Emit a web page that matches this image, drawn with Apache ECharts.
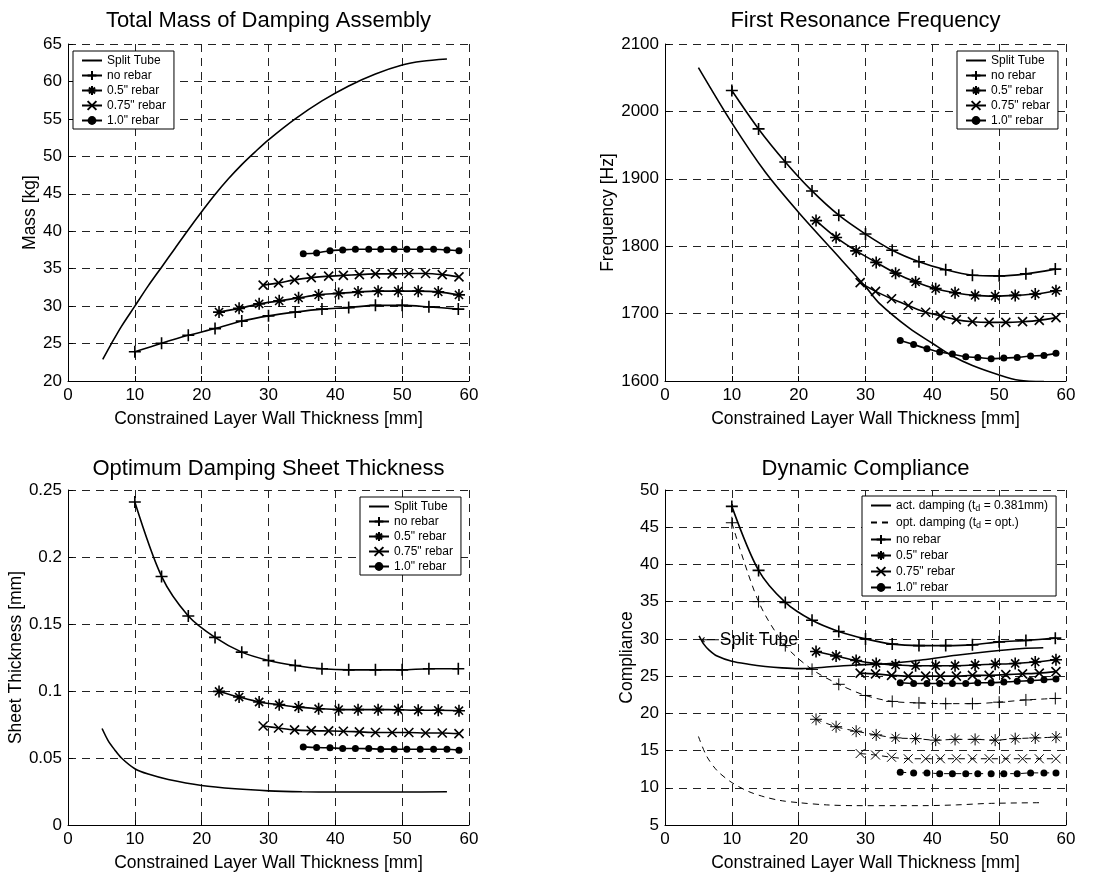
<!DOCTYPE html>
<html>
<head>
<meta charset="utf-8">
<script src="https://cdn.jsdelivr.net/npm/echarts@6/dist/echarts.min.js"></script>
<style>
  html, body { margin: 0; padding: 0; background: #fff; }
  #main { width: 1112px; height: 873px; }
</style>
</head>
<body>
<div id="main"></div>
<script>
// x positions of the markers (constrained layer wall thickness, mm)
const xNoRebar = [10, 14, 18, 22, 26, 30, 34, 38, 42, 46, 50, 54, 58.4];
const x05 = [22.6, 25.6, 28.6, 31.6, 34.5, 37.5, 40.5, 43.4, 46.4, 49.4, 52.4, 55.4, 58.5];
const x075 = [29.2, 31.5, 33.9, 36.4, 39.0, 41.2, 43.6, 46.0, 48.5, 51.0, 53.5, 56.0, 58.5];
const x10 = [35.2, 37.2, 39.2, 41.1, 43.0, 45.0, 46.8, 48.8, 50.7, 52.7, 54.7, 56.7, 58.5];

// total mass [kg]
const massSplitX = [5.2, 6.5, 8, 10, 12, 14, 16, 18, 20, 22, 24, 26, 28, 30, 34, 38, 42, 46, 50, 53, 56.7];
const massSplit = [22.9, 25.0, 27.3, 30.0, 32.7, 35.2, 37.7, 40.2, 42.6, 44.9, 47.0, 48.9, 50.6, 52.2, 55.0, 57.4, 59.4, 61.0, 62.2, 62.7, 63.0];
const massNo = [23.9, 25.05, 26.1, 27.0, 28.0, 28.7, 29.2, 29.6, 29.8, 30.1, 30.1, 29.9, 29.6];
const mass05 = [29.2, 29.7, 30.3, 30.7, 31.1, 31.5, 31.7, 31.9, 32.0, 32.0, 32.0, 31.9, 31.5];
const mass075 = [32.8, 33.1, 33.5, 33.8, 34.0, 34.1, 34.2, 34.3, 34.3, 34.35, 34.35, 34.2, 33.9];
const mass10 = [37.0, 37.1, 37.4, 37.5, 37.6, 37.6, 37.6, 37.6, 37.6, 37.6, 37.6, 37.5, 37.4];

// first resonance frequency [Hz]
const freqSplitX = [5, 10, 15, 20, 25, 30, 32, 36.6, 40, 43, 46, 50, 53, 56.7];
const freqSplit = [2065, 1983, 1910, 1850, 1795, 1740, 1716, 1678, 1656, 1637, 1623, 1609, 1601, 1599];
const freqNo = [2031, 1974, 1925, 1882, 1846, 1818, 1794, 1777, 1765, 1757, 1756, 1759, 1766];
const freq05 = [1838, 1813, 1793, 1776, 1760, 1747, 1737, 1731, 1727, 1726, 1727, 1729, 1734];
const freq075 = [1746, 1733, 1722, 1712, 1702, 1697, 1691, 1688, 1687, 1687, 1688, 1690, 1694];
const freq10 = [1660, 1654, 1648, 1643, 1640, 1636, 1635, 1633, 1634, 1635, 1637, 1638, 1641];

// optimum damping sheet thickness [mm]
const sheetSplitX = [5.1, 6, 7, 8, 10, 12, 15, 20, 25, 30, 35, 40, 50, 56.7];
const sheetSplit = [0.072, 0.063, 0.056, 0.050, 0.042, 0.038, 0.034, 0.0295, 0.027, 0.0255, 0.0248, 0.0246, 0.0246, 0.0248];
const sheetNo = [0.241, 0.1855, 0.156, 0.140, 0.129, 0.1228, 0.119, 0.1166, 0.1158, 0.1158, 0.1158, 0.1166, 0.1166];
const sheet05 = [0.0997, 0.0955, 0.0918, 0.0898, 0.088, 0.0868, 0.0861, 0.0861, 0.0861, 0.086, 0.0856, 0.0856, 0.0853];
const sheet075 = [0.0739, 0.0724, 0.071, 0.0704, 0.0702, 0.07, 0.0695, 0.069, 0.069, 0.069, 0.0687, 0.0687, 0.0682];
const sheet10 = [0.0583, 0.0578, 0.0576, 0.0571, 0.0571, 0.057, 0.0566, 0.0566, 0.0565, 0.0565, 0.0565, 0.0565, 0.0558];

// dynamic compliance, actual damping (solid) and optimal damping (dashed)
const compSplitX = [5.1, 5.8, 6.6, 7.8, 10, 12.5, 15, 17.5, 20, 23.8, 28.6, 33.6, 38.6, 43.6, 48.5, 53.5, 56.6];
const compSplit = [30.4, 29.3, 28.5, 27.7, 27.0, 26.6, 26.3, 26.1, 26.0, 26.2, 26.5, 26.7, 27.2, 27.8, 28.3, 28.7, 28.8];
const compNo = [47.8, 39.2, 34.9, 32.5, 31.0, 30.0, 29.3, 29.1, 29.1, 29.2, 29.6, 29.8, 30.1];
const comp05 = [28.3, 27.7, 27.1, 26.7, 26.5, 26.4, 26.4, 26.4, 26.5, 26.6, 26.7, 26.9, 27.2];
const comp075 = [25.4, 25.3, 25.1, 25.0, 25.0, 25.0, 25.0, 25.1, 25.1, 25.2, 25.3, 25.4, 25.6];
const comp10 = [24.1, 24.0, 24.0, 24.0, 24.0, 24.0, 24.1, 24.1, 24.2, 24.3, 24.4, 24.5, 24.6];
const optSplitX = [5.0, 6.2, 7.8, 10, 12.5, 14.8, 17.2, 20, 24.2, 28.6, 33.6, 38.6, 43.6, 48.5, 56.6];
const optSplit = [16.9, 14.3, 12.3, 10.7, 9.5, 8.8, 8.3, 8.0, 7.7, 7.6, 7.6, 7.6, 7.7, 7.9, 8.0];
const optNo = [45.6, 35.0, 29.1, 25.9, 23.9, 22.4, 21.6, 21.4, 21.3, 21.3, 21.5, 21.8, 22.0];
const opt05 = [19.2, 18.2, 17.6, 17.1, 16.7, 16.6, 16.4, 16.5, 16.5, 16.4, 16.6, 16.7, 16.8];
const opt075 = [14.6, 14.4, 14.1, 13.9, 13.9, 13.9, 13.9, 13.9, 13.9, 13.9, 13.9, 13.9, 13.9];
const opt10 = [12.1, 12.0, 12.0, 11.9, 11.9, 11.9, 11.9, 11.9, 11.9, 11.9, 12.0, 12.0, 12.0];

const titles = ['Total Mass of Damping Assembly', 'First Resonance Frequency',
    'Optimum Damping Sheet Thickness', 'Dynamic Compliance'];
const yNames = ['Mass [kg]', 'Frequency [Hz]', 'Sheet Thickness [mm]', 'Compliance'];
const xName = 'Constrained Layer Wall Thickness [mm]';
const yRanges = [[20, 65, 5], [1600, 2100, 100], [0, 0.25, 0.05], [5, 50, 5]];
const rebarNames = ['no rebar', '0.5" rebar', '0.75" rebar', '1.0" rebar'];
const actName = 'act. damping (td = 0.381mm)';
const optName = 'opt. damping (td = opt.)';
const splitNote = [5.4, 29.8];

const FONT = 'Liberation Sans, Arial, sans-serif';
const PLUS = 'path://M5,0L5,10M0,5L10,5';
const STAR = 'path://M5,0L5,10M0,5L10,5M1.6,1.6L8.4,8.4M8.4,1.6L1.6,8.4';
const CROSS = 'path://M0,0L10,10M10,0L0,10';
const markers = [[PLUS, 12], [STAR, 12], [CROSS, 9], ['circle', 7]];

function zip(xs, ys) {
    return xs.map((x, i) => [x, ys[i]]);
}

function plain(name, xs, ys, idx, dashed) {
    return {
        name: name, type: 'line', xAxisIndex: idx, yAxisIndex: idx,
        data: zip(xs, ys), smooth: 0.3, symbol: 'none', showSymbol: false,
        lineStyle: {color: '#000', width: dashed ? 1 : 1.6, type: dashed ? [6, 5] : 'solid'},
        itemStyle: {color: 'rgba(0,0,0,0)', borderColor: 'rgba(0,0,0,0)'}
    };
}

function marked(name, xs, ys, idx, k, dashed) {
    const m = markers[k];
    const isDot = m[0] === 'circle';
    return {
        name: name, type: 'line', xAxisIndex: idx, yAxisIndex: idx,
        data: zip(xs, ys), smooth: 0.3,
        symbol: m[0], symbolSize: m[1], showSymbol: true,
        lineStyle: {color: '#000', width: dashed ? 1 : 1.6, type: dashed ? [6, 5] : 'solid'},
        itemStyle: {color: '#000', borderColor: '#000', borderWidth: isDot ? 0 : (dashed ? 1 : 1.6)}
    };
}

const chart = echarts.init(document.getElementById('main'));

const grids = [
    {left: 68, top: 44, width: 401, height: 337},
    {left: 665, top: 44, width: 401, height: 337},
    {left: 68, top: 490, width: 401, height: 336},
    {left: 665, top: 490, width: 401, height: 336}
];
const nameGaps = [27, 43, 43, 26];

const gridLine = {show: true, lineStyle: {color: '#222', width: 1, type: [8, 6]}};

const xAxes = grids.map((g, i) => ({
    type: 'value', gridIndex: i, min: 0, max: 60, interval: 10,
    name: xName, nameLocation: 'middle', nameGap: 29,
    nameTextStyle: {fontSize: 17.5, color: '#000', fontFamily: FONT},
    axisLine: {show: true, onZero: false, lineStyle: {color: '#000', width: 1}},
    axisTick: {show: true, inside: true, length: 5, lineStyle: {color: '#000'}},
    axisLabel: {fontSize: 17, color: '#000', fontFamily: FONT, margin: 6},
    splitLine: gridLine
}));

const yAxes = grids.map((g, i) => ({
    type: 'value', gridIndex: i, min: yRanges[i][0], max: yRanges[i][1], interval: yRanges[i][2],
    name: yNames[i], nameLocation: 'middle', nameGap: nameGaps[i],
    nameTextStyle: {fontSize: 17.5, color: '#000', fontFamily: FONT},
    axisLine: {show: true, onZero: false, lineStyle: {color: '#000', width: 1}},
    axisTick: {show: true, inside: true, length: 5, lineStyle: {color: '#000'}},
    axisLabel: {fontSize: 17, color: '#000', fontFamily: FONT, margin: 6,
        formatter: function (v) { return String(v); }},
    splitLine: gridLine
}));

const titleTops = [10, 10, 458, 458];
const title = titles.map((t, i) => ({
    text: t, left: grids[i].left + grids[i].width / 2, top: titleTops[i],
    textAlign: 'center', padding: 0,
    textStyle: {fontSize: 22, fontWeight: 'normal', color: '#000', fontFamily: FONT}
}));

function legendBox(left, top, names, gap) {
    return {
        orient: 'vertical', left: left, top: top, data: names,
        backgroundColor: '#fff', borderColor: '#000', borderWidth: 1, borderRadius: 0,
        padding: [3, 8, 2, 8], itemWidth: 20, itemHeight: 11, itemGap: gap,
        selectedMode: false,
        formatter: function (name) {
            return name.replace('(td', '(t{sub|d}');
        },
        textStyle: {
            fontSize: 12, lineHeight: 13, color: '#000', fontFamily: FONT,
            rich: {sub: {fontSize: 9, color: '#000', fontFamily: FONT, padding: [6, 0, 0, 0]}}
        }
    };
}

const legendNames = ['Split Tube'].concat(rebarNames);
const legend = [
    legendBox(73, 51, legendNames, 2),
    legendBox(957, 51, legendNames, 2),
    legendBox(360, 497, legendNames, 2),
    legendBox(862, 496, [actName, optName].concat(rebarNames), 3)
];

const xs = [xNoRebar, x05, x075, x10];
const series = [];
const panelData = [
    [massSplitX, massSplit, [massNo, mass05, mass075, mass10]],
    [freqSplitX, freqSplit, [freqNo, freq05, freq075, freq10]],
    [sheetSplitX, sheetSplit, [sheetNo, sheet05, sheet075, sheet10]]
];
panelData.forEach((p, i) => {
    series.push(plain('Split Tube', p[0], p[1], i, false));
    p[2].forEach((ys, k) => series.push(marked(rebarNames[k], xs[k], ys, i, k, false)));
});

// dynamic compliance panel
const splitAct = plain(actName, compSplitX, compSplit, 3, false);
splitAct.markPoint = {
    symbol: 'circle', symbolSize: 0, silent: true,
    label: {show: true, position: 'right', distance: 0, formatter: '{a|\u27F5}Split Tube',
        fontSize: 17.5, color: '#000', fontFamily: FONT,
        rich: {a: {fontSize: 13, color: '#000', fontFamily: 'DejaVu Sans'}}},
    data: [{coord: splitNote}]
};
series.push(splitAct);
series.push(plain(optName, optSplitX, optSplit, 3, true));
[compNo, comp05, comp075, comp10].forEach((ys, k) => series.push(marked(rebarNames[k], xs[k], ys, 3, k, false)));
[optNo, opt05, opt075, opt10].forEach((ys, k) => series.push(marked(rebarNames[k] + ' (opt.)', xs[k], ys, 3, k, true)));

const option = {
    backgroundColor: '#fff',
    animation: false,
    title: title,
    legend: legend,
    grid: grids,
    xAxis: xAxes,
    yAxis: yAxes,
    series: series
};

option && chart.setOption(option);
</script>
</body>
</html>
